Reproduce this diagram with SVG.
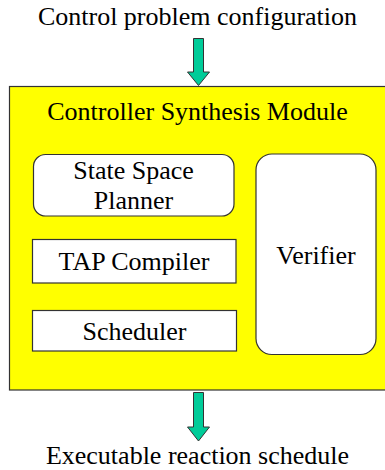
<svg xmlns="http://www.w3.org/2000/svg" width="385" height="470" viewBox="0 0 385 470">
<style>
text{font-family:'Liberation Serif','DejaVu Serif',serif;font-size:26px;fill:#000;text-anchor:middle}
.box{fill:#fff;stroke:#333;stroke-width:1.2}
.arrow{fill:#00cc99;stroke:#333;stroke-width:1}
</style>
<rect width="385" height="470" fill="#fff"/>
<g id="input-label"><text x="197.5" y="25">Control problem configuration</text></g>
<g id="module">
<rect x="9.5" y="86.5" width="380" height="303.5" fill="#ffff00" stroke="#333" stroke-width="1.2"/>
<text x="197.5" y="120">Controller Synthesis Module</text>
</g>
<g id="state-space-planner">
<rect class="box" x="33.5" y="154.5" width="200.5" height="61.5" rx="12"/>
<text x="133.5" y="179">State Space</text>
<text x="133.5" y="209">Planner</text>
</g>
<g id="tap-compiler">
<rect class="box" x="32.5" y="239.5" width="203.5" height="43.5"/>
<text x="134" y="270">TAP Compiler</text>
</g>
<g id="scheduler">
<rect class="box" x="32.5" y="310.5" width="204" height="40.5"/>
<text x="134.5" y="340">Scheduler</text>
</g>
<g id="verifier">
<rect class="box" x="256" y="154" width="120" height="200.5" rx="16"/>
<text x="316" y="264">Verifier</text>
</g>
<g id="output-label"><text x="197.5" y="464">Executable reaction schedule</text></g>
<g id="connectors">
<path class="arrow" d="M193.5 38.5 H203.5 V72 H209.5 L198.5 85.5 L187.5 72 H193.5 Z"/>
<path class="arrow" d="M193.5 392.5 H203.5 V427 H209.5 L198.5 441 L187.5 427 H193.5 Z"/>
</g>
</svg>
